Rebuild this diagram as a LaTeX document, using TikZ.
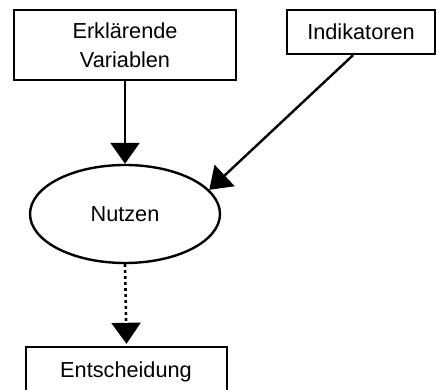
\documentclass[tikz,border=0pt]{standalone}
\usepackage{fontspec}
\setmainfont{Liberation Sans}
\usetikzlibrary{arrows.meta,shapes.geometric}
\begin{document}
\begin{tikzpicture}[x=1pt,y=1pt,
  every node/.style={font=\fontsize{21.7}{29}\selectfont, align=center, inner sep=0pt},
  boxnode/.style={draw, line width=2.4pt, rectangle},
  ellnode/.style={draw, line width=2.4pt, ellipse},
  conn/.style={line width=2.4pt, -{Triangle[width=29pt,length=21pt]}},
  dotline/.style={line width=2.6pt, dash pattern=on 2.6pt off 3.4pt},
]
\clip (0,0) rectangle (436,390);
\node[boxnode, minimum width=222pt, minimum height=70pt] (erk) at (125,345) {Erklärende\\Variablen};
\node[boxnode, minimum width=148pt, minimum height=44pt] (ind) at (361,358) {Indikatoren};
\node[ellnode, minimum width=190pt, minimum height=98pt] (nut) at (125,176) {Nutzen};
\node[boxnode, minimum width=201pt, minimum height=50pt] (ent) at (126.5,18) {};
\node (entt) at (126,18) {Entscheidung};
\coordinate (indstart) at ([xshift=-8pt]ind.south);
\draw[conn] (erk.south) -- (nut.north);
\draw[conn] (indstart) -- (nut.16);
\draw[conn, dotline] (nut.south) -- ([yshift=2pt]ent.north);
\end{tikzpicture}
\end{document}
